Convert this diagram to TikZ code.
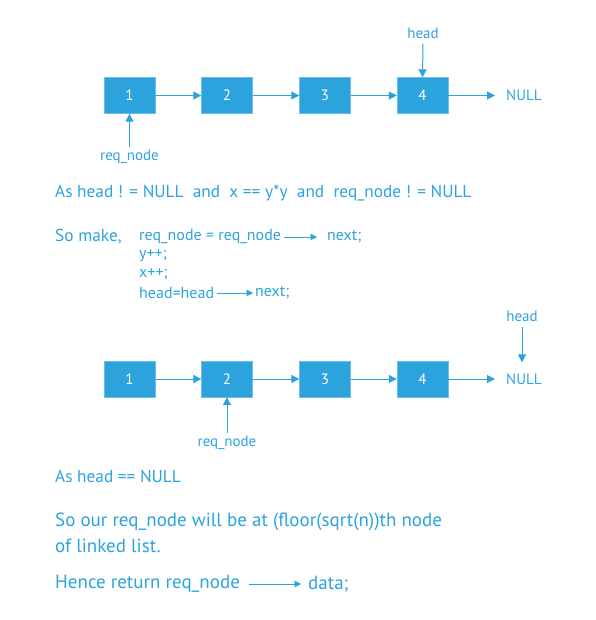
\documentclass[tikz,border=0pt]{standalone}
\usepackage{fontspec}
\setmainfont{PT Sans}
\usetikzlibrary{arrows.meta}
\definecolor{ll}{HTML}{2DA3DD}
\tikzset{
  listbox/.style={draw=ll!70, fill=ll, text=white, minimum width=51pt, minimum height=36pt, inner sep=0pt, font=\fontsize{15}{17}\selectfont},
  lnk/.style={draw=ll, line width=1pt, -{Triangle[length=8pt,width=8pt]}},
  ilnk/.style={draw=ll, line width=0.9pt, -{Triangle[length=6.5pt,width=6.5pt]}},
  lbl/.style={text=ll, inner sep=0pt, font=\fontsize{15}{17}\selectfont},
  txt/.style={text=ll, inner sep=0pt, anchor=west, font=\fontsize{17.3}{20}\selectfont},
  code/.style={text=ll, inner sep=0pt, anchor=west, font=\fontsize{16}{18}\selectfont},
  big/.style={text=ll, inner sep=0pt, anchor=west, font=\fontsize{19}{22}\selectfont}
}
\begin{document}
\begin{tikzpicture}[x=1pt,y=-1pt]
\useasboundingbox (0,0) rectangle (595,620);
% top list
\node[listbox] (a1) at (129.5,95.5) {1};
\node[listbox] (a2) at (227,95.5) {2};
\node[listbox] (a3) at (325,95.5) {3};
\node[listbox] (a4) at (422.5,95.5) {4};
\node[lbl,anchor=west] (anull) at (506,95.5) {NULL};
\draw[lnk] (a1) -- (a2);
\draw[lnk] (a2) -- (a3);
\draw[lnk] (a3) -- (a4);
\draw[lnk] (a4) -- ([xshift=-11pt]anull.west);
\node[lbl] (ahead) at (423,33) {head};
\draw[lnk] ([yshift=-5pt]ahead.south) -- (a4.north);
\node[lbl] (areq) at (129.5,157) {req\_node};
\draw[lnk] ([yshift=3pt]areq.north) -- (a1.south);
% condition text
\node[txt] (cond) at (55,193) {As head ! = NULL\ \ and\ \ x == y*y\ \ and\ \ req\_node ! = NULL};
\node[txt] (so) at (55,237) {So make,};
\node[code] (c1) at (139,237) {req\_node = req\_node};
\node[code] (c1b) at (327,237) {next;};
\draw[ilnk] ([xshift=3pt]c1.east) -- ([xshift=-10pt]c1b.west);
\node[code] (c2) at (139,255.5) {y++;};
\node[code] (c3) at (139,274.5) {x++;};
\node[code] (c4) at (139,293) {head=head};
\node[code] (c4b) at (255,293) {next;};
\draw[ilnk] ([xshift=3pt]c4.east) -- ([xshift=-2pt]c4b.west);
% bottom list
\node[listbox] (b1) at (129.5,379) {1};
\node[listbox] (b2) at (227,379) {2};
\node[listbox] (b3) at (325,379) {3};
\node[listbox] (b4) at (422.5,379) {4};
\node[lbl,anchor=west] (bnull) at (506,379) {NULL};
\draw[lnk] (b1) -- (b2);
\draw[lnk] (b2) -- (b3);
\draw[lnk] (b3) -- (b4);
\draw[lnk] (b4) -- ([xshift=-11pt]bnull.west);
\node[lbl] (bhead) at (522,316) {head};
\coordinate (bnt) at ([yshift=11pt]bnull.north);
\draw[lnk] ([yshift=-5pt]bhead.south) -- (bhead.south |- bnt);
\node[lbl] (breq) at (227,443) {req\_node};
\draw[lnk] ([yshift=3pt]breq.north) -- (b2.south);
% bottom text
\node[txt] (t1) at (55,476) {As head == NULL};
\node[big] (t2) at (55,522) {So our req\_node will be at (floor(sqrt(n))th node};
\node[big] (t3) at (55,546) {of linked list.};
\node[big] (t4) at (55,584) {Hence return req\_node};
\node[big] (t4b) at (308,584) {data;};
\draw[ilnk] ([xshift=9pt]t4.east) -- ([xshift=-7pt]t4b.west);
\end{tikzpicture}
\end{document}
